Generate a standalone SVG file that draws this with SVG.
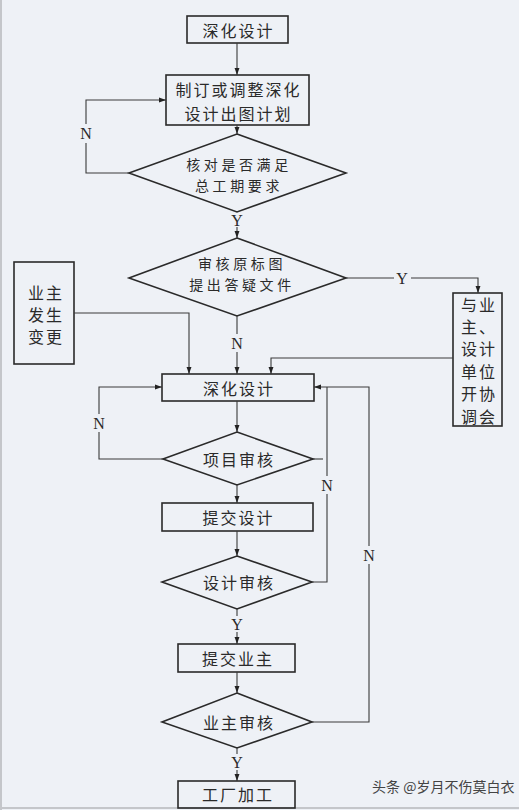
<svg xmlns="http://www.w3.org/2000/svg" width="519" height="810" viewBox="0 0 519 810">
<defs>
<marker id="ah" viewBox="0 0 10 10" refX="10" refY="5" markerWidth="7" markerHeight="7" markerUnits="userSpaceOnUse" orient="auto">
<path d="M0,1.5 L10,5 L0,8.5 z" fill="#222"/>
</marker>
<style>
.bx{fill:none;stroke:#2a2a2a;stroke-width:1.6}
.ln{fill:none;stroke:#3a3a3a;stroke-width:1.1}
.t{font-family:"Noto Sans CJK SC","Noto Sans CJK JP",sans-serif;font-size:16px;fill:#2a2a2a;text-anchor:middle;dominant-baseline:central;letter-spacing:2px}
.s{font-size:14px;letter-spacing:3.6px}
.l{font-family:"Liberation Serif",serif;font-size:16px;fill:#2a2a2a;text-anchor:middle;dominant-baseline:central}
.wm{font-family:"Noto Sans CJK SC",sans-serif;font-size:14px;fill:#444;dominant-baseline:central}
</style>
</defs>
<rect x="0" y="0" width="519" height="810" fill="#eef1f6"/>
<line x1="1" y1="0" x2="1" y2="810" stroke="#c4c6ca" stroke-width="2"/>
<line x1="0" y1="808" x2="519" y2="808" stroke="#c4c6ca" stroke-width="2"/>

<g id="n1"><rect class="bx" x="187" y="16" width="101" height="27"/><text class="t" x="238.5" y="29.5">深化设计</text></g>
<g id="n2"><rect class="bx" x="166" y="75" width="143" height="50"/><text class="t" x="238.5" y="89">制订或调整深化</text><text class="t" x="238.5" y="113">设计出图计划</text></g>
<g id="d1"><polygon class="bx" points="237,134 346,173 237,212 129,173"/><text class="t s" x="239" y="164">核对是否满足</text><text class="t s" x="239" y="185">总工期要求</text></g>
<g id="d2"><polygon class="bx" points="237,238 346,278 237,316 129,278"/><text class="t s" x="242" y="263">审核原标图</text><text class="t s" x="242" y="284">提出答疑文件</text></g>
<g id="n3"><rect class="bx" x="14" y="262" width="60" height="102"/><text class="t" x="46" y="292">业主</text><text class="t" x="46" y="314">发生</text><text class="t" x="46" y="336">变更</text></g>
<g id="n4"><rect class="bx" x="453" y="293" width="49" height="133"/><text class="t" x="479" y="304">与业</text><text class="t" x="479" y="326">主、</text><text class="t" x="479" y="348">设计</text><text class="t" x="479" y="371">单位</text><text class="t" x="479" y="393">开协</text><text class="t" x="479" y="416">调会</text></g>
<g id="n5"><rect class="bx" x="162" y="374" width="152" height="27"/><text class="t" x="239" y="388">深化设计</text></g>
<g id="d3"><polygon class="bx" points="237,432 313,459 237,485 163,459"/><text class="t" x="239" y="459">项目审核</text></g>
<g id="n6"><rect class="bx" x="162" y="503" width="151" height="28"/><text class="t" x="238.5" y="517">提交设计</text></g>
<g id="d4"><polygon class="bx" points="237,556 312,582 237,609 162,582"/><text class="t" x="239" y="582">设计审核</text></g>
<g id="n7"><rect class="bx" x="178" y="644" width="117" height="28"/><text class="t" x="238" y="658">提交业主</text></g>
<g id="d5"><polygon class="bx" points="237,693 312,722 237,748 162,722"/><text class="t" x="239" y="722">业主审核</text></g>
<g id="n8"><rect class="bx" x="178" y="781" width="117" height="27"/><text class="t" x="238" y="794">工厂加工</text></g>

<g id="connectors">
<path class="ln" d="M237,43 V75" marker-end="url(#ah)"/>
<path class="ln" d="M237,125 V134" marker-end="url(#ah)"/>
<path class="ln" d="M129,173 H86 V143"/>
<path class="ln" d="M86,124 V100 H166" marker-end="url(#ah)"/>
<path class="ln" d="M237,227 V238" marker-end="url(#ah)"/>
<path class="ln" d="M346,278 H394"/>
<path class="ln" d="M411,278 H478 V293" marker-end="url(#ah)"/>
<path class="ln" d="M237,316 V334"/>
<path class="ln" d="M237,352 V374" marker-end="url(#ah)"/>
<path class="ln" d="M74,313 H189 V374" marker-end="url(#ah)"/>
<path class="ln" d="M453,358 H271 V374" marker-end="url(#ah)"/>
<path class="ln" d="M237,401 V432" marker-end="url(#ah)"/>
<path class="ln" d="M163,459 H99 V432"/>
<path class="ln" d="M99,414 V387 H162" marker-end="url(#ah)"/>
<path class="ln" d="M237,485 V503" marker-end="url(#ah)"/>
<path class="ln" d="M237,531 V556" marker-end="url(#ah)"/>
<path class="ln" d="M313,459 H323"/>
<path class="ln" d="M312,582 H327 V494"/>
<path class="ln" d="M327,476 V387"/>
<path class="ln" d="M312,722 H369 V564"/>
<path class="ln" d="M369,546 V387 H314" marker-end="url(#ah)"/>
<path class="ln" d="M237,609 V616"/>
<path class="ln" d="M237,632 V644" marker-end="url(#ah)"/>
<path class="ln" d="M237,672 V693" marker-end="url(#ah)"/>
<path class="ln" d="M237,748 V754"/>
<path class="ln" d="M237,770 V781" marker-end="url(#ah)"/>
</g>
<g id="labels">
<text class="l" x="86" y="133">N</text>
<text class="l" x="237" y="220">Y</text>
<text class="l" x="402" y="278">Y</text>
<text class="l" x="237" y="343">N</text>
<text class="l" x="99" y="423">N</text>
<text class="l" x="327" y="485">N</text>
<text class="l" x="369" y="555">N</text>
<text class="l" x="237" y="624">Y</text>
<text class="l" x="237" y="762">Y</text>
</g>
<text class="wm" x="372" y="786">头条 @岁月不伤莫白衣</text>
</svg>
